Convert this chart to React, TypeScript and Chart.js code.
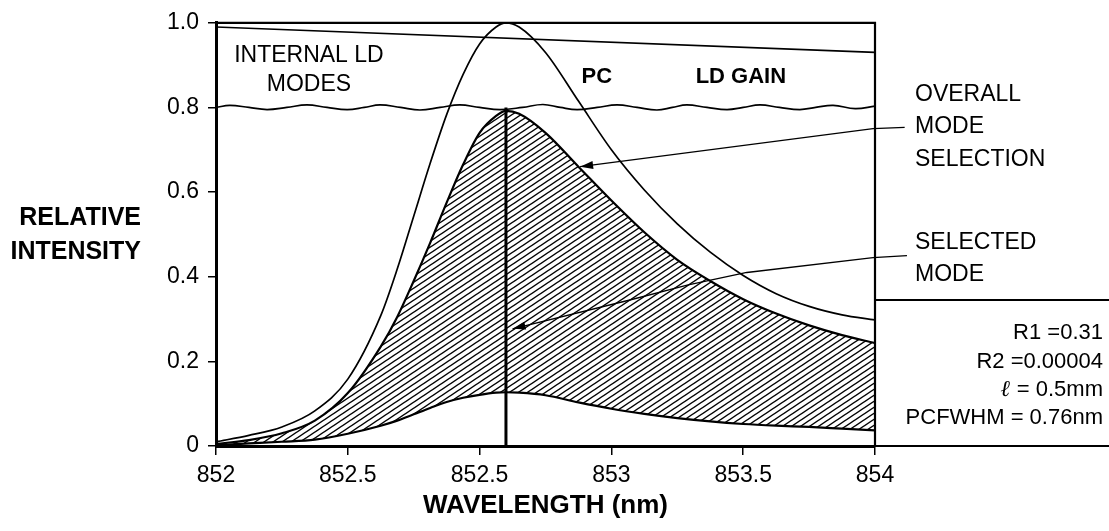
import React, { useEffect, useRef } from "react";
import { Chart, registerables } from "chart.js";

Chart.register(...registerables);

// ---- tick labels (as printed on the original figure) ----
const xTickValues = [852, 852.4, 852.8, 853.2, 853.6, 854];
const xTickLabels = ["852", "852.5", "852.5", "853", "853.5", "854"];
const yTickValues = [0, 0.2, 0.4, 0.6, 0.8, 1.0];
const yTickLabels = ["0", "0.2", "0.4", "0.6", "0.8", "1.0"];

// ---- curves (wavelength in nm, relative intensity) ----
const wavelengths = [
  852.0, 852.1, 852.2, 852.3, 852.4, 852.5, 852.55, 852.6, 852.65, 852.7, 852.75,
  852.8, 852.85, 852.88, 852.92, 853.0, 853.1, 853.2, 853.3, 853.4, 853.5, 853.6,
  853.7, 853.8, 853.9, 854.0,
];
const pcCurve = [
  0.01, 0.025, 0.045, 0.083, 0.158, 0.308, 0.418, 0.543, 0.668, 0.783, 0.878,
  0.95, 0.99, 1.0, 0.99, 0.93, 0.815, 0.7, 0.605, 0.525, 0.458, 0.403,
  0.36, 0.33, 0.31, 0.298,
];
const overallSelection = [
  0.005, 0.014, 0.03, 0.06, 0.125, 0.235, 0.305, 0.39, 0.48, 0.575, 0.665,
  0.74, 0.78, 0.792, 0.785, 0.74, 0.66, 0.58, 0.505, 0.44, 0.39, 0.347,
  0.313, 0.285, 0.262, 0.243,
];
const selectedFloor = [
  0.002, 0.006, 0.01, 0.015, 0.029, 0.048, 0.06, 0.075, 0.09, 0.104, 0.114,
  0.121, 0.126, 0.127, 0.126, 0.12, 0.103, 0.088, 0.076, 0.066, 0.058, 0.052,
  0.048, 0.045, 0.041, 0.037,
];
const ldGainX = [852.0, 854.0];
const ldGainY = [0.99, 0.93];
const modesX = [
  852.0, 852.042, 852.1, 852.155, 852.215, 852.276, 852.337, 852.398, 852.45, 852.498,
  852.56, 852.619, 852.68, 852.74, 852.8, 852.862, 852.93, 852.992, 853.045, 853.096,
  853.157, 853.217, 853.278, 853.338, 853.385, 853.429, 853.49, 853.551, 853.6, 853.651,
  853.71, 853.772, 853.82, 853.873, 853.94, 854.0,
];
const modesY = [
  0.8, 0.805, 0.8, 0.795, 0.8, 0.806, 0.8, 0.795, 0.8, 0.806,
  0.8, 0.794, 0.8, 0.806, 0.8, 0.795, 0.8, 0.807, 0.8, 0.795,
  0.8, 0.806, 0.8, 0.794, 0.8, 0.806, 0.8, 0.795, 0.8, 0.806,
  0.8, 0.795, 0.8, 0.805, 0.797, 0.803,
];
const selectedModeX = 852.88;
const selectedModeTop = 0.8;

// annotation anchors in data units
const overallArrow = [
  [854.09, 0.753],
  [853.994, 0.75],
  [853.105, 0.66],
];
const selectedArrow = [
  [854.097, 0.45],
  [853.994, 0.445],
  [853.611, 0.41],
  [853.43, 0.38],
  [853.256, 0.345],
  [852.9, 0.277],
];

const FONT = "'Liberation Sans', Arial, Helvetica, sans-serif";

function makeHatch(): CanvasPattern | string {
  const c = document.createElement("canvas");
  const w = 9;
  const h = 6;
  c.width = w;
  c.height = h;
  const g = c.getContext("2d");
  if (!g) return "#888";
  g.strokeStyle = "#000";
  g.lineWidth = 1.4;
  for (let k = -1; k <= 1; k++) {
    g.beginPath();
    g.moveTo(-w, 2 * h + k * h);
    g.lineTo(2 * w, -h + k * h);
    g.stroke();
  }
  const p = g.createPattern(c, "repeat");
  return p || "#888";
}

function drawArrowHead(ctx: CanvasRenderingContext2D, fx: number, fy: number, tx: number, ty: number) {
  const ang = Math.atan2(ty - fy, tx - fx);
  const len = 13;
  const half = 4;
  ctx.beginPath();
  ctx.moveTo(tx, ty);
  ctx.lineTo(tx - len * Math.cos(ang) + half * Math.sin(ang), ty - len * Math.sin(ang) - half * Math.cos(ang));
  ctx.lineTo(tx - len * Math.cos(ang) - half * Math.sin(ang), ty - len * Math.sin(ang) + half * Math.cos(ang));
  ctx.closePath();
  ctx.fill();
}

const decorPlugin = {
  id: "decor",
  afterDraw(chart: any) {
    const { ctx, chartArea, scales } = chart;
    const xs = scales.x;
    const ys = scales.y;
    const W = chart.width;
    const px = (v: number) => xs.getPixelForValue(v);
    const py = (v: number) => ys.getPixelForValue(v);
    ctx.save();
    ctx.strokeStyle = "#000";
    ctx.fillStyle = "#000";

    // frame top and right
    ctx.lineWidth = 2.2;
    ctx.beginPath();
    ctx.moveTo(chartArea.left, chartArea.top);
    ctx.lineTo(chartArea.right, chartArea.top);
    ctx.lineTo(chartArea.right, chartArea.bottom);
    ctx.stroke();

    // parameter box to the right
    ctx.beginPath();
    ctx.moveTo(chartArea.right, 300);
    ctx.lineTo(W, 300);
    ctx.moveTo(chartArea.right, chartArea.bottom);
    ctx.lineTo(W, chartArea.bottom);
    ctx.stroke();

    // leader lines with arrows
    ctx.lineWidth = 1.3;
    const drawLeader = (pts: number[][]) => {
      ctx.beginPath();
      pts.forEach((p, i) => {
        const X = px(p[0]);
        const Y = py(p[1]);
        if (i === 0) ctx.moveTo(X, Y);
        else ctx.lineTo(X, Y);
      });
      ctx.stroke();
      const a = pts[pts.length - 2];
      const b = pts[pts.length - 1];
      drawArrowHead(ctx, px(a[0]), py(a[1]), px(b[0]), py(b[1]));
    };
    drawLeader(overallArrow);
    drawLeader(selectedArrow);

    // texts inside the plot
    ctx.textBaseline = "middle";
    ctx.textAlign = "center";
    ctx.font = `23px ${FONT}`;
    ctx.fillText("INTERNAL LD", px(852.282), py(0.923));
    ctx.fillText("MODES", px(852.282), py(0.853));
    ctx.font = `bold 22px ${FONT}`;
    ctx.fillText("PC", px(853.156), py(0.872));
    ctx.fillText("LD GAIN", px(853.593), py(0.872));

    // right-hand labels
    ctx.textAlign = "left";
    ctx.font = `23px ${FONT}`;
    ctx.fillText("OVERALL", 915, 95);
    ctx.fillText("MODE", 915, 127);
    ctx.fillText("SELECTION", 915, 160);
    ctx.fillText("SELECTED", 915, 243);
    ctx.fillText("MODE", 915, 275);

    ctx.textAlign = "right";
    ctx.font = `22px ${FONT}`;
    ctx.fillText("R1 =0.31", 1103, 333);
    ctx.fillText("R2 =0.00004", 1103, 362);
    const rest = " = 0.5mm";
    ctx.fillText(rest, 1103, 390);
    const restW = ctx.measureText(rest).width;
    ctx.font = `italic bold 23px 'DejaVu Serif', serif`;
    ctx.fillText("ℓ", 1103 - restW, 390);
    ctx.font = `22px ${FONT}`;
    ctx.fillText("PCFWHM = 0.76nm", 1103, 418);

    // axis titles
    ctx.textAlign = "right";
    ctx.font = `bold 25px ${FONT}`;
    ctx.fillText("RELATIVE", 141, 218);
    ctx.fillText("INTENSITY", 141, 252);
    ctx.textAlign = "center";
    ctx.font = `bold 26px ${FONT}`;
    ctx.fillText("WAVELENGTH (nm)", (chartArea.left + chartArea.right) / 2, 506);
    ctx.restore();
  },
};

export default function App() {
  const ref = useRef<HTMLCanvasElement>(null);
  useEffect(() => {
    document.body.style.margin = "0";
    document.body.style.background = "#fff";
    const canvas = ref.current;
    if (!canvas) return;
    const hatch = makeHatch();
    const toPts = (xv: number[], yv: number[]) => xv.map((x, i) => ({ x, y: yv[i] }));
    const chart = new Chart(canvas, {
      type: "line",
      data: {
        datasets: [
          {
            label: "LD gain",
            data: toPts(ldGainX, ldGainY),
            borderColor: "#000",
            borderWidth: 1.6,
            pointRadius: 0,
            fill: false,
          },
          {
            label: "Internal LD modes",
            data: toPts(modesX, modesY),
            borderColor: "#000",
            borderWidth: 1.7,
            pointRadius: 0,
            tension: 0.4,
            fill: false,
          },
          {
            label: "PC",
            data: toPts(wavelengths, pcCurve),
            borderColor: "#000",
            borderWidth: 1.7,
            pointRadius: 0,
            cubicInterpolationMode: "monotone",
            fill: false,
          },
          {
            label: "Selected mode",
            data: [
              { x: selectedModeX, y: 0 },
              { x: selectedModeX, y: selectedModeTop },
            ],
            borderColor: "#000",
            borderWidth: 3,
            pointRadius: 0,
            fill: false,
          },
          {
            label: "Overall mode selection",
            data: toPts(wavelengths, overallSelection),
            borderColor: "#000",
            borderWidth: 2.2,
            pointRadius: 0,
            cubicInterpolationMode: "monotone",
            backgroundColor: hatch as any,
            fill: "+1",
          },
          {
            label: "Floor",
            data: toPts(wavelengths, selectedFloor),
            borderColor: "#000",
            borderWidth: 2.2,
            pointRadius: 0,
            cubicInterpolationMode: "monotone",
            fill: false,
          },
        ],
      },
      options: {
        responsive: false,
        animation: false,
        devicePixelRatio: 1,
        layout: { padding: { left: 0, right: 234, top: 17, bottom: 0 } },
        plugins: { legend: { display: false }, tooltip: { enabled: false } },
        scales: {
          x: {
            type: "linear",
            min: 852,
            max: 854,
            afterBuildTicks: (s: any) => {
              s.ticks = xTickValues.map((v) => ({ value: v }));
            },
            afterFit: (s: any) => {
              s.height = 85;
            },
            ticks: {
              callback: (_v: any, i: number) => xTickLabels[i],
              color: "#000",
              font: { family: FONT, size: 23 },
              padding: 7,
              maxRotation: 0,
              autoSkip: false,
            },
            grid: {
              display: true,
              drawOnChartArea: false,
              drawTicks: true,
              tickLength: 9,
              color: "#000",
              lineWidth: 1.5,
            },
            border: { display: true, color: "#000", width: 3 },
          },
          y: {
            type: "linear",
            min: 0,
            max: 1,
            afterBuildTicks: (s: any) => {
              s.ticks = yTickValues.map((v) => ({ value: v }));
            },
            afterFit: (s: any) => {
              s.width = 216;
            },
            ticks: {
              callback: (_v: any, i: number) => yTickLabels[i],
              color: "#000",
              font: { family: FONT, size: 23 },
              padding: 9,
              autoSkip: false,
            },
            grid: {
              display: true,
              drawOnChartArea: false,
              drawTicks: true,
              tickLength: 8,
              color: "#000",
              lineWidth: 1.5,
            },
            border: { display: true, color: "#000", width: 3 },
          },
        },
      },
      plugins: [decorPlugin],
    });
    return () => chart.destroy();
  }, []);
  return (
    <div style={{ width: 1109, height: 531, background: "#fff" }}>
      <canvas ref={ref} width={1109} height={531} style={{ display: "block", width: 1109, height: 531 }} />
    </div>
  );
}
